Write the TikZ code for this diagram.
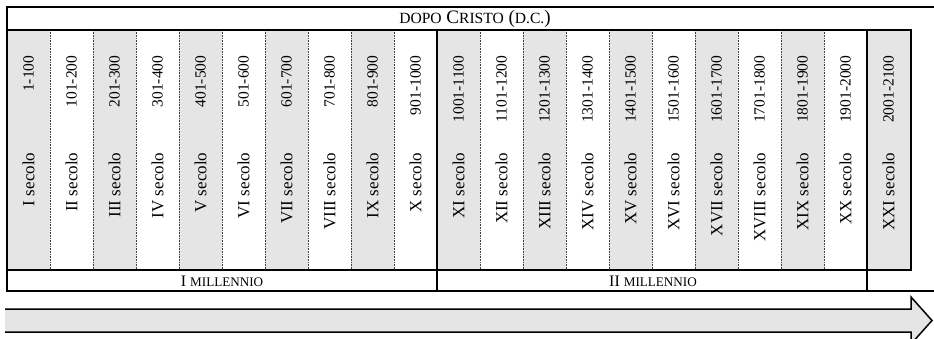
\documentclass[tikz,border=0pt]{standalone}
\usepackage{fontspec}
\setmainfont{Liberation Serif}
\usepackage{tikz}
\newcommand\fakesc[1]{{\fontsize{0.82\dimexpr\csname f@size\endcsname pt\relax}{1em}\selectfont #1}}
\tikzset{%
  frame/.style = {line width=1.5pt},
  sep/.style = {densely dotted,line width=0.6pt,black!75},
  band/.style = {fill=black!10,draw=none},
  yr/.style = {rotate=90,anchor=east,inner sep=0pt,xshift=1.5pt,
        font=\fontsize{15.5}{18}\selectfont},
  sec/.style = {rotate=90,anchor=east,inner sep=0pt,xshift=1.5pt,
        font=\fontsize{17}{19}\selectfont},
  toplabel/.style = {inner sep=0pt,font=\fontsize{19}{21}\selectfont},
  milllabel/.style = {inner sep=0pt,font=\fontsize{16}{18}\selectfont},
  timearrow/.style = {fill=black!10,draw=black,line width=1.5pt,
        line join=miter}
}
\begin{document}
\begin{tikzpicture}[x=1pt,y=-1pt]
    \useasboundingbox (0,0) rectangle (934,339);
    \clip (0,0) rectangle (934,339);
    % shaded centuries
    \foreach \i in {1,3,...,21}
        \fill[band] ({7+43*(\i-1)},30) rectangle ({7+43*\i},270);
    % dotted separators
    \foreach \i in {1,...,9,11,12,...,19}
        \draw[sep] ({7+43*\i},30) -- ({7+43*\i},270);
    % frame
    \draw[frame] (934,7) -- (7,7) -- (7,291) -- (934,291);
    \draw[frame] (7,30) -- (911,30) -- (911,270) -- (7,270);
    \draw[frame] (437,30) -- (437,291);
    \draw[frame] (867,30) -- (867,291);
    % labels
    \node[toplabel] (dc) at (475,19) {\fakesc{DOPO} C\fakesc{RISTO} (\fakesc{D.C.})};
    \foreach \r [count=\i] in {I,II,III,IV,V,VI,VII,VIII,IX,X,XI,XII,
            XIII,XIV,XV,XVI,XVII,XVIII,XIX,XX,XXI}{
        \pgfmathtruncatemacro\lo{(\i-1)*100+1}
        \pgfmathtruncatemacro\hi{\i*100}
        \node[yr] (yr\i) at ({28.5+43*(\i-1)},57) {\lo-\hi};
        \node[sec] (sec\i) at ({28.5+43*(\i-1)},154) {\r{} secolo};
    }
    \node[milllabel] (mill1) at (222,281) {I \fakesc{MILLENNIO}};
    \node[milllabel] (mill2) at (653,281) {II \fakesc{MILLENNIO}};
    % arrow
    \fill[timearrow,draw=none] (5,309) -- (911,309) -- (911,297)
        -- (932,320.5) -- (911,344) -- (911,332) -- (5,332) -- cycle;
    \draw[timearrow,fill=none] (5,309) -- (911,309) -- (911,297)
        -- (932,320.5) -- (911,344) -- (911,332) -- (5,332);
\end{tikzpicture}
\end{document}
